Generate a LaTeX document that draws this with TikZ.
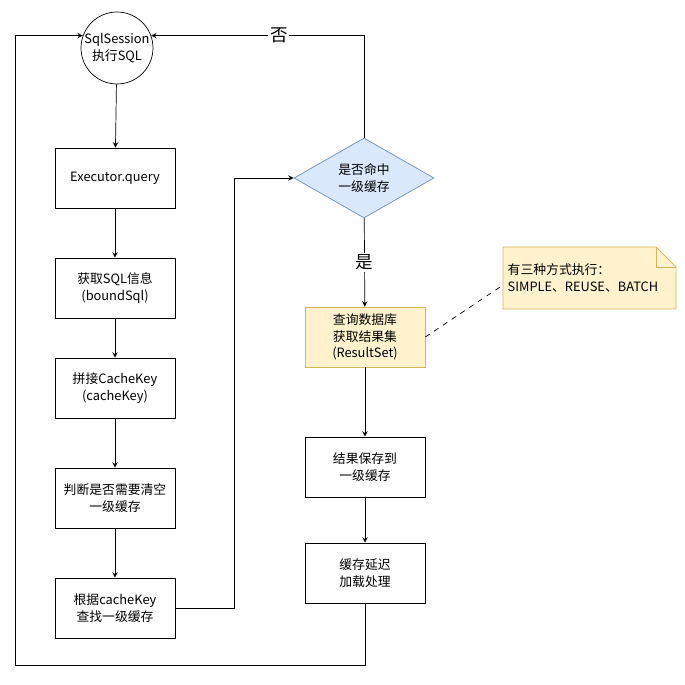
\documentclass[tikz,border=0pt]{standalone}
\usepackage{fontspec}
\setmainfont{Liberation Sans}
\newfontfamily\cjk{Noto Sans CJK SC}
\usetikzlibrary{shapes.geometric}
\definecolor{diablue}{RGB}{218,232,252}
\definecolor{diaedge}{RGB}{108,142,191}
\definecolor{noteyel}{RGB}{255,242,204}
\definecolor{noteedge}{RGB}{214,182,86}
\begin{document}
\begin{tikzpicture}[x=0.02cm, y=-0.02cm, font=\cjk\fontsize{7.3}{9.5}\selectfont, thick,
        step box/.style = {draw, thin, minimum width=2.4cm, minimum height=1.2cm, align=center},
        start/.style = {draw, thin, circle, minimum size=1.44cm, align=center, inner sep=0pt},
        check/.style = {draw=diaedge, thin, fill=diablue, diamond, aspect=1.75, minimum width=2.8cm, minimum height=1.6cm, inner sep=0pt, align=center},
        flow/.style = {-stealth, thin}]
    \useasboundingbox (0,0) rectangle (684,685);
    \node[start] (sql) at (117,48) {SqlSession\\执行SQL};
    \node[step box] (query) at (115,178) {Executor.query};
    \node[step box] (bound) at (115,288) {获取SQL信息\\(boundSql)};
    \node[step box] (key) at (115,388) {拼接CacheKey\\(cacheKey)};
    \node[step box] (clear) at (115,498) {判断是否需要清空\\一级缓存};
    \node[step box] (find) at (115,608) {根据cacheKey\\查找一级缓存};
    \node[check] (hit) at (364,178) {是否命中\\一级缓存};
    \node[step box, fill=noteyel, draw=noteedge] (db) at (365,337) {查询数据库\\获取结果集\\(ResultSet)};
    \node[step box] (save) at (365,467) {结果保存到\\一级缓存};
    \node[step box] (lazy) at (365,573) {缓存延迟\\加载处理};
    % note
    \draw[thin, draw=noteedge, fill=noteyel] (503,247) -- (656,247) -- (676,267) -- (676,309) -- (503,309) -- cycle;
    \draw[thin, draw=noteedge] (656,247) -- (656,267) -- (676,267);
    \node[anchor=west, align=left, inner sep=0pt] (tip) at (507,278) {有三种方式执行：\\SIMPLE、REUSE、BATCH};
    \coordinate (tipin) at (503,285);
    \draw[thin, dashed] (db.east) -- (tipin);
    % connectors
    \draw[flow] (sql) -- (query);
    \draw[flow] (query) -- (bound);
    \draw[flow] (bound) -- (key);
    \draw[flow] (key) -- (clear);
    \draw[flow] (clear) -- (find);
    \draw[flow] (find.east) -- (234,608) |- (hit.west);
    \draw[flow] (hit.north) |- node[pos=0.7, fill=white, inner sep=1pt] {\fontsize{10}{10}\selectfont 否} (sql.20);
    \draw[flow] (hit) -- node[fill=white, inner sep=1pt] {\fontsize{10}{10}\selectfont 是} (db);
    \draw[flow] (db) -- (save);
    \draw[flow] (save) -- (lazy);
    \draw[flow] (lazy.south) |- (15,665) |- (sql.160);
\end{tikzpicture}
\end{document}
